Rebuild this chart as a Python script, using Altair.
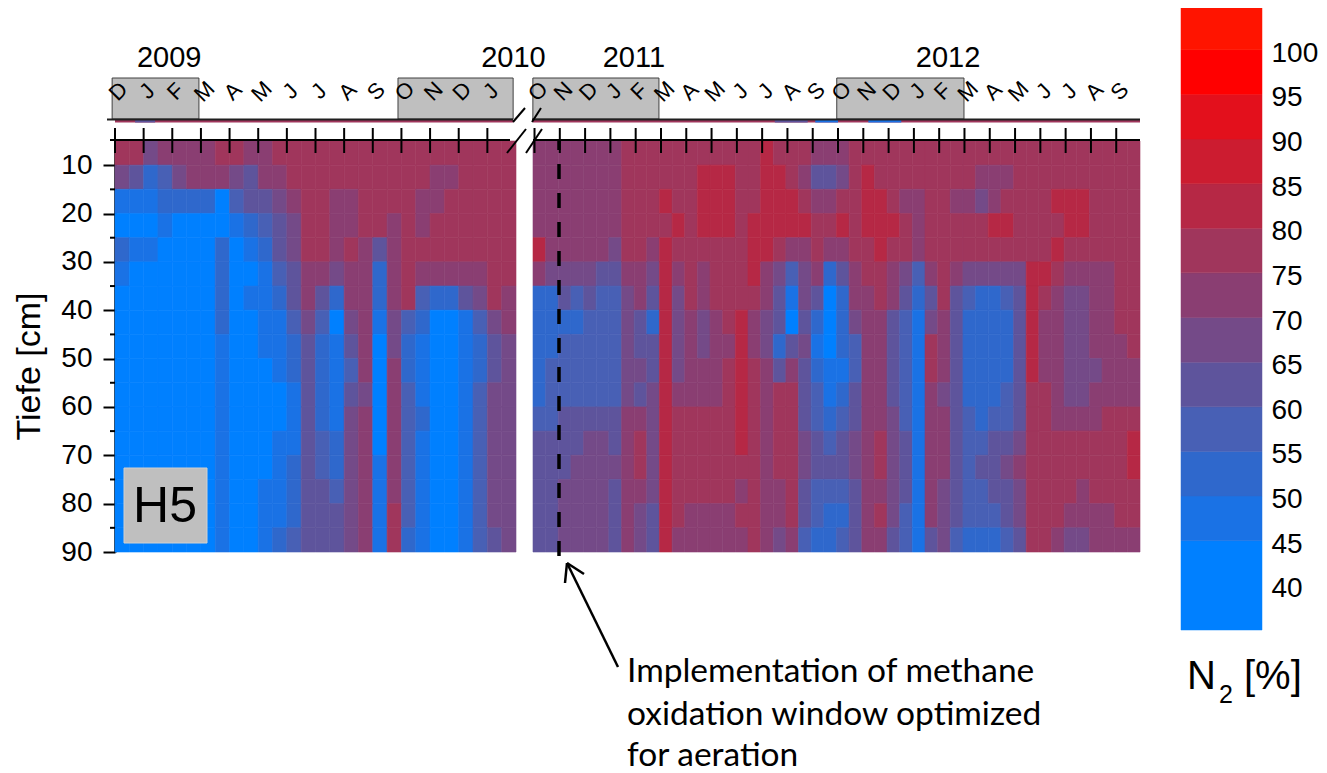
import altair as alt
import pandas as pd

# N2 [%] per depth row (5 cm rows from 5 to 90 cm), half-month columns
p1_d05 = [77,77,67,72,72,72,72, 77,77,72,72,77,77,77, 77,77,77,77,77,77,77, 77,77,77,77,77,77,77]
p1_d10 = [67,62,52,57,67,72,72, 72,67,62,72,72,77,77, 77,77,77,77,77,77,77, 77,72,72,77,77,77,77]
p1_d15 = [47,47,47,52,52,52,52, 40,57,62,62,67,72,77, 77,72,72,77,77,77,77, 72,72,77,77,77,77,77]
p1_d20 = [40,40,40,47,40,40,40, 40,47,52,57,62,67,77, 77,72,72,77,77,72,77, 72,77,77,77,77,77,77]
p1_d25 = [52,47,47,40,40,40,40, 52,40,47,52,62,67,77, 77,72,77,72,62,72,77, 77,77,77,77,77,77,77]
p1_d30 = [47,40,40,40,40,40,40, 52,40,40,47,57,62,72, 72,67,72,72,52,72,77, 72,72,72,72,72,77,77]
p1_d35 = [40,40,40,40,40,40,40, 52,40,47,47,52,62,72, 62,52,72,72,52,72,77, 57,52,52,62,67,77,72]
p1_d40 = [40,40,40,40,40,40,40, 52,40,40,47,47,57,67, 57,40,67,72,47,67,57, 52,40,40,47,57,67,72]
p1_d45 = [40,40,40,40,40,40,40, 47,40,40,47,47,52,62, 52,47,62,72,40,67,52, 47,40,40,47,52,62,67]
p1_d50 = [40,40,40,40,40,40,40, 47,40,40,40,47,52,62, 52,47,57,72,40,72,52, 47,40,40,47,52,62,67]
p1_d55 = [40,40,40,40,40,40,40, 47,40,40,40,40,47,62, 52,47,62,67,40,72,57, 47,40,40,47,57,67,67]
p1_d60 = [40,40,40,40,40,40,40, 47,40,40,40,40,47,62, 52,47,67,72,40,72,57, 52,40,40,47,57,67,67]
p1_d65 = [40,40,40,40,40,40,40, 47,40,40,40,47,47,62, 57,52,67,72,40,72,57, 47,40,40,47,57,67,67]
p1_d70 = [40,40,40,40,40,40,40, 47,40,40,40,47,52,62, 57,52,67,72,47,72,57, 47,40,40,47,57,67,67]
p1_d75 = [40,40,40,40,40,40,40, 47,40,40,47,47,52,62, 62,57,67,72,47,72,57, 47,40,40,47,57,67,67]
p1_d80 = [40,40,40,40,40,40,40, 47,40,40,47,47,52,62, 62,62,67,72,47,77,57, 47,40,40,47,57,67,67]
p1_d85 = [40,40,40,40,40,40,40, 47,40,40,47,52,57,62, 62,62,67,72,47,77,52, 47,40,40,47,57,62,67]

p2_d05 = [72,72,72,72,72,72,72,77, 77,77,77,77,77,77,77,77, 77,77,82,77,77,77,72,72, 72,77,77,77,77,77,77,77, 77,77,77,77,77,77,77,77, 77,77,77,77,77,77,77,77]
p2_d10 = [72,72,72,72,72,72,72,77, 77,77,77,77,77,82,82,82, 77,77,82,82,77,72,62,62, 67,77,82,77,77,77,77,77, 77,77,77,72,72,72,77,77, 77,77,77,77,77,77,77,77]
p2_d15 = [72,72,72,72,72,72,72,77, 77,77,82,77,77,82,82,82, 77,77,82,82,82,77,72,72, 77,77,82,82,77,72,72,77, 77,72,72,67,72,77,77,77, 77,82,82,82,77,77,77,77]
p2_d20 = [72,72,72,72,72,72,72,77, 77,77,77,82,77,82,82,82, 77,82,82,82,82,82,77,77, 82,77,82,82,82,77,72,77, 77,77,77,77,82,82,77,77, 77,77,82,82,77,77,77,77]
p2_d25 = [82,72,72,72,72,72,67,77, 77,72,82,77,77,77,77,77, 77,82,82,77,72,72,77,72, 72,77,77,82,77,77,72,77, 77,77,77,77,77,77,77,77, 77,82,77,77,77,77,77,77]
p2_d30 = [72,67,67,67,67,62,62,72, 72,67,82,72,77,72,77,77, 77,82,72,67,57,67,72,52, 62,72,77,77,72,67,57,72, 77,72,67,67,67,67,67,82, 82,77,72,72,72,72,77,77]
p2_d35 = [52,52,62,57,62,57,57,67, 72,62,82,67,77,72,77,77, 77,77,72,62,47,67,62,40, 52,72,72,77,72,62,52,62, 77,62,57,52,52,57,62,82, 77,72,67,67,72,72,77,77]
p2_d40 = [52,52,52,52,57,57,57,67, 62,52,82,67,72,67,72,77, 82,72,67,62,40,62,52,40, 52,67,72,72,62,57,47,67, 72,62,52,52,52,52,62,82, 72,72,67,67,72,72,77,77]
p2_d45 = [52,52,57,57,57,57,57,67, 62,62,82,67,72,67,72,72, 82,72,67,52,62,67,47,40, 52,57,72,72,62,57,47,77, 72,62,52,52,52,52,62,82, 72,72,67,67,72,72,72,77]
p2_d50 = [52,57,57,57,57,57,57,67, 67,62,82,67,72,72,72,77, 82,77,72,62,72,62,52,47, 47,57,72,72,62,57,47,77, 72,62,52,52,52,52,62,82, 72,72,67,67,67,72,72,72]
p2_d55 = [52,57,57,57,57,57,57,67, 62,67,82,72,72,72,72,77, 82,77,72,77,77,62,57,47, 52,62,72,72,62,57,47,72, 67,62,52,52,52,57,62,77, 77,72,67,67,72,72,72,72]
p2_d60 = [57,57,62,62,62,62,62,72, 72,67,82,77,77,77,77,77, 82,77,72,77,77,62,57,52, 57,62,72,72,67,57,47,72, 72,62,57,52,57,57,62,77, 77,72,72,72,72,77,77,77]
p2_d65 = [62,62,62,62,67,67,62,72, 77,67,82,77,77,77,77,77, 82,77,72,77,77,67,62,57, 62,67,72,77,67,62,47,72, 72,62,57,57,62,62,67,77, 77,77,77,77,77,77,77,82]
p2_d70 = [62,62,62,67,67,67,67,72, 77,67,82,77,77,77,77,77, 77,77,72,77,77,67,62,62, 62,67,72,77,67,62,47,72, 72,62,57,62,62,67,72,77, 77,77,77,77,77,77,77,82]
p2_d75 = [62,62,67,67,67,67,62,72, 72,67,82,77,77,77,77,77, 72,77,72,72,77,62,57,57, 57,62,72,72,67,62,47,72, 67,62,57,57,62,62,67,77, 77,77,77,72,77,77,77,77]
p2_d80 = [62,62,67,67,67,67,62,72, 67,62,82,77,72,72,72,72, 77,77,72,72,77,62,57,52, 52,62,72,77,67,57,47,72, 67,62,57,57,57,62,67,77, 77,77,72,72,72,72,77,77]
p2_d85 = [62,62,67,67,67,67,62,72, 67,62,82,72,72,72,72,72, 72,77,72,67,72,57,52,52, 57,62,72,72,62,57,47,62, 67,57,52,52,52,57,62,77, 77,72,67,67,72,72,72,72]

depths = [5,10,15,20,25,30,35,40,45,50,55,60,65,70,75,80,85]
panel1 = [p1_d05,p1_d10,p1_d15,p1_d20,p1_d25,p1_d30,p1_d35,p1_d40,p1_d45,p1_d50,p1_d55,p1_d60,p1_d65,p1_d70,p1_d75,p1_d80,p1_d85]
panel2 = [p2_d05,p2_d10,p2_d15,p2_d20,p2_d25,p2_d30,p2_d35,p2_d40,p2_d45,p2_d50,p2_d55,p2_d60,p2_d65,p2_d70,p2_d75,p2_d80,p2_d85]

# Months counted from Dec 2008 = 0
month_pos = list(range(0, 14)) + list(range(22, 46))
month_txt = list("DJFMAMJJASONDJ") + list("ONDJFMAMJJASONDJFMAMJJAS")
box_from = [-0.1, 9.88, 21.88, 33.95]
box_to = [2.93, 13.9, 26.92, 38.98]
year_txt = ["2009", "2010", "2011", "2012"]
year_pos = [1.89, 13.91, 25.93, 38.35]
strip_from = [0.0, 21.88, 0.7, 31.5, 33.1, 35.2]
strip_to = [13.9, 45.94, 1.4, 32.8, 34.0, 36.5]
strip_val = [77, 77, 62, 62, 47, 47]
legend_lo = [35,45,50,55,60,65,70,75,80,85,90,95,100]
legend_hi = [45,50,55,60,65,70,75,80,85,90,95,100,105]
legend_mid = [40,47,52,57,62,67,72,77,82,87,92,97,102]
legend_tick = [40,45,50,55,60,65,70,75,80,85,90,95,100]
note_lines = ["Implementation of methane", "oxidation window optimized", "for aeration"]

thresholds = [45,50,55,60,65,70,75,80,85,90,95,100]
colors = ["#0080ff","#1a72e5","#2f68cc","#4860b5","#5e549c","#744a88","#8a3e72","#a0365c",
          "#b62845","#cc1c30","#e3101c","#ff0000","#ff1400"]
fill_scale = alt.Scale(type="threshold", domain=thresholds, range=colors)

xscale = alt.Scale(domain=[0, 14, 21.94, 45.94], range=[107, 508, 525, 1132])
yscale = alt.Scale(domain=[5, 90], range=[133, 544])
FONT = "Liberation Sans"

rows = []
for d, r in zip(depths, panel1):
    for k, v in enumerate(r):
        rows.append(dict(x0=k*0.5, x1=(k+1)*0.5, d0=d, d1=d+5, n2=v))
for d, r in zip(depths, panel2):
    for k, v in enumerate(r):
        rows.append(dict(x0=21.94+k*0.5, x1=21.94+(k+1)*0.5, d0=d, d1=d+5, n2=v))
cells = pd.DataFrame(rows)


def X(f):
    return alt.X(f, type="quantitative", scale=xscale, axis=None)


def seg(x1, y1, x2, y2, w=2.0, color="black", **kw):
    return alt.Chart().mark_rule(strokeWidth=w, color=color, **kw).encode(
        x=alt.value(x1-8), x2=alt.value(x2-8), y=alt.value(y1-8), y2=alt.value(y2-8))


heat = alt.Chart(cells).mark_rect(strokeWidth=0.6).encode(
    x=X("x0"), x2="x1",
    y=alt.Y("d0:Q", scale=yscale, axis=alt.Axis(
        values=[10,20,30,40,50,60,70,80,90], title="Tiefe [cm]", offset=-107, grid=False,
        domainColor="black", domainWidth=2.5, tickColor="black", tickWidth=2, tickSize=12,
        labelFont=FONT, labelFontSize=28, labelColor="black", labelPadding=11,
        titleFont=FONT, titleFontSize=34, titleFontWeight="normal", titleColor="black",
        titleAngle=270, titleBaseline="alphabetic", titleX=-75.5, titleY=358)),
    y2="d1",
    fill=alt.Fill("n2:Q", scale=fill_scale, legend=None),
    stroke=alt.Stroke("n2:Q", scale=fill_scale, legend=None),
)

minor = alt.Chart(pd.DataFrame({"d": [15,25,35,45,55,65,75,85]})).mark_rule(strokeWidth=2, color="black").encode(
    y=alt.Y("d:Q", scale=yscale, axis=None), x=alt.value(102), x2=alt.value(107))

strip = alt.Chart(pd.DataFrame({"a": strip_from, "b": strip_to, "v": strip_val})).mark_rect().encode(
    x=X("a"), x2="b", y=alt.value(111), y2=alt.value(114.5),
    fill=alt.Fill("v:Q", scale=fill_scale, legend=None))

boxes = alt.Chart(pd.DataFrame({"a": box_from, "b": box_to})).mark_rect(
    fill="#bfbfbf", stroke="#404040", strokeWidth=1).encode(
    x=X("a"), x2="b", y=alt.value(70), y2=alt.value(111))

month_labels = alt.Chart(pd.DataFrame({"m": month_pos, "t": month_txt})).mark_text(
    font=FONT, fontSize=22, angle=315, dx=5, color="black").encode(
    x=X("m"), y=alt.value(87), text="t:N")

years = alt.Chart(pd.DataFrame({"m": year_pos, "t": year_txt})).mark_text(
    font=FONT, fontSize=29, color="black").encode(
    x=X("m"), y=alt.value(50), text="t:N")

ticks = alt.Chart(pd.DataFrame({"m": month_pos})).mark_rule(strokeWidth=2, color="black").encode(
    x=X("m"), y=alt.value(120), y2=alt.value(145))

lines = [
    seg(107, 119.5, 513, 119.5, 2, "#202020"), seg(532, 119.5, 1140, 119.5, 2, "#202020"),
    seg(110, 140, 510, 140, 2), seg(533, 140, 1140, 140, 2),
    seg(513, 122, 525, 108), seg(532, 122, 541, 108),
    seg(507, 153, 526, 129), seg(526, 153, 542, 129),
]

dash = seg(559, 141, 559, 556, 3.5, strokeDash=[15, 14], strokeDashOffset=6)
arrow = [seg(618, 667, 567, 563, 2.5), seg(567, 563, 565, 583, 2.5), seg(567, 563, 584, 574, 2.5)]

h5 = alt.Chart().mark_rect(fill="#bfbfbf", stroke="#d0d0d0", strokeWidth=1).encode(
    x=alt.value(124-8), x2=alt.value(207-8), y=alt.value(468-8), y2=alt.value(543-8))
h5t = alt.Chart(pd.DataFrame({"t": ["H5"]})).mark_text(font=FONT, fontSize=50, color="black").encode(
    x=alt.value(165-8), y=alt.value(507-8), text="t:N")

legend_scale = alt.Scale(domain=[35, 105], range=[622, -3])
bar = alt.Chart(pd.DataFrame({"lo": legend_lo, "hi": legend_hi, "v": legend_mid})).mark_rect(strokeWidth=0.5).encode(
    x=alt.value(1181-8), x2=alt.value(1262-8),
    y=alt.Y("lo:Q", scale=legend_scale, axis=None), y2="hi:Q",
    fill=alt.Fill("v:Q", scale=fill_scale, legend=None),
    stroke=alt.Stroke("v:Q", scale=fill_scale, legend=None))
bar_text = alt.Chart(pd.DataFrame({"v": legend_tick})).mark_text(
    font=FONT, fontSize=28, align="left", dy=4, color="black").encode(
    x=alt.value(1271.5-8), y=alt.Y("v:Q", scale=legend_scale, axis=None), text="v:Q")


def label(t, x, y, size, font=FONT, align="left", baseline="alphabetic"):
    return alt.Chart(pd.DataFrame({"t": [t]})).mark_text(
        font=font, fontSize=size, align=align, baseline=baseline, color="black").encode(
        x=alt.value(x-8), y=alt.value(y-8), text="t:N")


n_label = [label("N", 1187, 689, 40), label("2", 1219, 703, 25), label("[%]", 1244, 689, 40)]
notes = [label(t, 627, y, 33.5, font="Lato") for t, y in zip(note_lines, [682, 725, 766])]

chart = alt.layer(
    heat, minor, strip, boxes, month_labels, years, ticks, *lines, dash, *arrow, h5, h5t,
    bar, bar_text, *n_label, *notes,
).resolve_scale(y="independent").properties(
    width=1311, height=765, padding=0, autosize=alt.AutoSizeParams(type="none"),
).configure_view(stroke=None)

chart.save("out.html", embed_options={"renderer": "svg", "actions": False})
